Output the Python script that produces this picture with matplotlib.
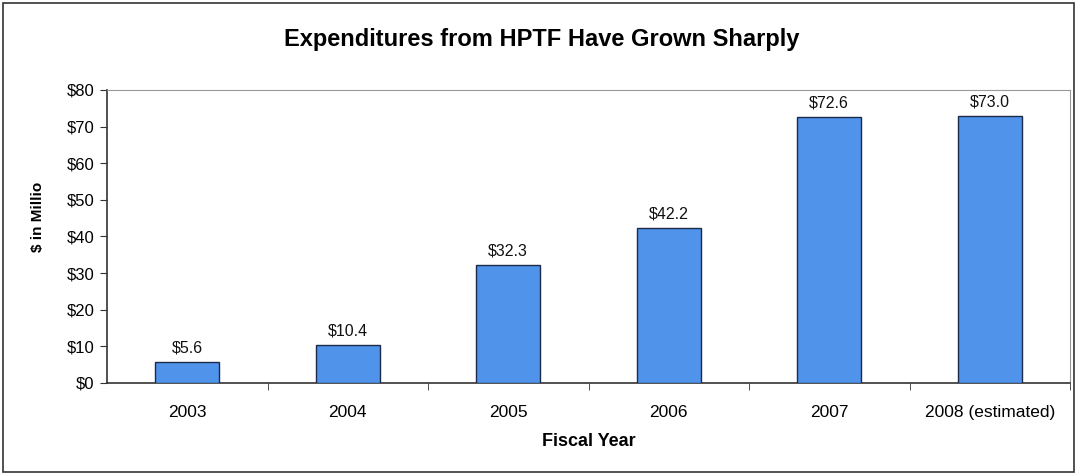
import matplotlib
matplotlib.use("Agg")
import matplotlib.pyplot as plt
from matplotlib.patches import Rectangle

years = ["2003", "2004", "2005", "2006", "2007", "2008 (estimated)"]
spending = [5.6, 10.4, 32.3, 42.2, 72.6, 73.0]
y_ticks = [0, 10, 20, 30, 40, 50, 60, 70, 80]

plt.rcParams['font.family'] = ['Liberation Sans', 'DejaVu Sans']

fig = plt.figure(figsize=(10.77, 4.76), dpi=100)
ax = fig.add_axes([0.0994, 0.1954, 0.8941, 0.6156])

x = list(range(len(years)))
ax.bar(x, spending, width=0.4, color='#5093ea', edgecolor='#1c2a4a', linewidth=1.0, zorder=3)

for xi, v in zip(x, spending):
    ax.text(xi, v + 1.8, f'${v:.1f}', ha='center', va='bottom', fontsize=11.5, color='#111111')

ax.set_xlim(-0.5, len(years) - 0.5)
ax.set_ylim(0, 80)
ax.set_yticks(y_ticks)
ax.set_yticklabels([f'${t}' for t in y_ticks], fontsize=12)
ax.set_xticks(x)
ax.set_xticklabels(years, fontsize=12.5)
ax.tick_params(axis='x', length=0, pad=16)
# tick marks sit between categories
ax.set_xticks([i + 0.5 for i in x], minor=True)
ax.tick_params(axis='x', which='minor', length=5, direction='out', color='#333333')
ax.tick_params(axis='y', length=5, direction='out', color='#333333', pad=4)

for side in ('left', 'bottom'):
    ax.spines[side].set_color('#333333')
    ax.spines[side].set_linewidth(1.2)
for side in ('top', 'right'):
    ax.spines[side].set_color('#999999')
    ax.spines[side].set_linewidth(0.8)

ax.set_xlabel('Fiscal Year', fontsize=13, fontweight='bold', labelpad=9)
fig.text(0.0353, 0.545, '$ in Millio', rotation=90, ha='center', va='center',
         fontsize=11, fontweight='bold')

fig.text(0.503, 0.916, 'Expenditures from HPTF Have Grown Sharply', fontsize=17,
         fontweight='bold', ha='center', va='center')

# outer frame around the whole chart
fig.patches.append(Rectangle((0.003, 0.008), 0.994, 0.985, transform=fig.transFigure,
                             fill=False, edgecolor='#333333', linewidth=1.2))

fig.savefig('out.png', dpi=100, facecolor='white')
